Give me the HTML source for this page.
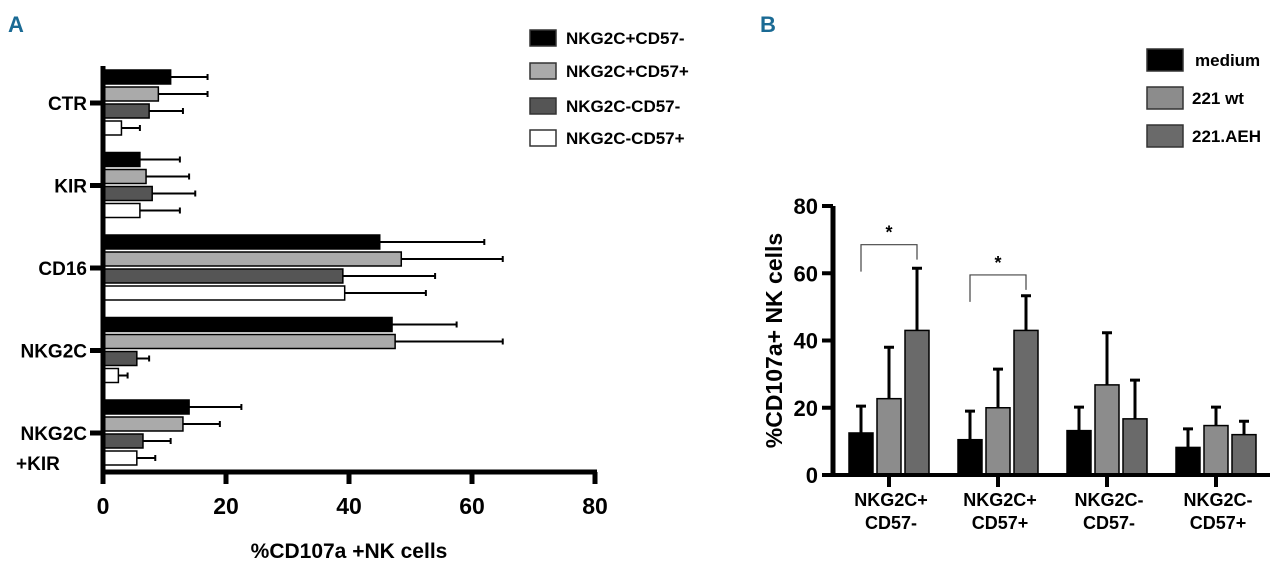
<!DOCTYPE html>
<html><head><meta charset="utf-8"><style>
html,body{margin:0;padding:0;background:#fff;}
svg{display:block;font-family:"Liberation Sans",sans-serif;font-weight:bold;}
</style></head><body>
<svg id="chart" width="1280" height="569" viewBox="0 0 1280 569">
<text x="8" y="32" font-size="22" fill="#1a6a94">A</text>
<text x="760" y="32" font-size="22" fill="#1a6a94">B</text>
<g id="ga"></g><g id="gb"></g>
</svg>
<script>
const NS='http://www.w3.org/2000/svg';
function mk(p,t,a,txt){const e=document.createElementNS(NS,t);for(const k in a)e.setAttribute(k,a[k]);if(txt!=null)e.textContent=txt;p.appendChild(e);return e;}

// Panel A data
const aCategories=['CTR','KIR','CD16','NKG2C','NKG2C+KIR'];
const aSeriesNames=['NKG2C+CD57-','NKG2C+CD57+','NKG2C-CD57-','NKG2C-CD57+'];
const aPosNeg=[11,6,45,47,14];
const aPosPos=[9,7,48.5,47.5,13];
const aNegNeg=[7.5,8,39,5.5,6.5];
const aNegPos=[3,6,39.3,2.5,5.5];
const aErrPosNeg=[17,12.5,62,57.5,22.5];
const aErrPosPos=[17,14,65,65,19];
const aErrNegNeg=[13,15,54,7.5,11];
const aErrNegPos=[6,12.5,52.5,4,8.5];
const aTicks=[0,20,40,60,80];

// Panel B data
const bCategories=[['NKG2C+','CD57-'],['NKG2C+','CD57+'],['NKG2C-','CD57-'],['NKG2C-','CD57+']];
const bSeriesNames=['medium','221 wt','221.AEH'];
const bMedium=[12.5,10.5,13.2,8.2];
const bWt=[22.7,20,26.8,14.7];
const bAEH=[43,43,16.7,12];
const bErrMedium=[20.5,19,20.2,13.7];
const bErrWt=[38,31.5,42.3,20.2];
const bErrAEH=[61.5,53.3,28.2,16];
const bTicks=[0,20,40,60,80];

// Panel A
(function(){
const g=document.getElementById('ga');
const x=v=>103+v*(595-103)/80;
const catY=i=>103+i*82.5;
const vals=[aPosNeg,aPosPos,aNegNeg,aNegPos],errs=[aErrPosNeg,aErrPosPos,aErrNegNeg,aErrNegPos];
const fills=['#000','#aaa','#555','#fff'];
const offs=[-26,-9,8,25];
aCategories.forEach((c,i)=>{
  vals.forEach((arr,s)=>{
    const yc=catY(i)+offs[s];
    const r=mk(g,'rect',{x:x(0),y:yc-7,width:x(arr[i])-x(0),height:14,fill:fills[s],stroke:'#000','stroke-width':1.5});
    
    
    const e=mk(g,'path',{d:`M${x(arr[i])} ${yc}H${x(errs[s][i])}M${x(errs[s][i])} ${yc-3}V${yc+3}`,stroke:'#000','stroke-width':2,fill:'none'});
    
    
  });
  mk(g,'line',{x1:90,x2:103,y1:catY(i),y2:catY(i),stroke:'#000','stroke-width':5});
  const parts=c==='NKG2C+KIR'?['NKG2C','+KIR']:[c];
  parts.forEach((p,k)=>{
    const t=mk(g,'text',{x:k?16:87,y:catY(i)+7+k*30,'font-size':19,'text-anchor':k?'start':'end'},p);
    
    
  });
});
mk(g,'line',{x1:103,x2:103,y1:66,y2:474,stroke:'#000','stroke-width':5});
mk(g,'line',{x1:101,x2:597,y1:472,y2:472,stroke:'#000','stroke-width':5});
aTicks.forEach(v=>{
  mk(g,'line',{x1:x(v),x2:x(v),y1:472,y2:484,stroke:'#000','stroke-width':5});
  const t=mk(g,'text',{x:x(v),y:514,'font-size':23,'text-anchor':'middle'},v);
  
  
});
const xt=mk(g,'text',{x:349,y:558,'font-size':21,'text-anchor':'middle'},'%CD107a +NK cells');


const ly=[38,71,106,138];
aSeriesNames.forEach((n,s)=>{
  const r=mk(g,'rect',{x:530,y:ly[s]-8,width:26,height:16,fill:fills[s],stroke:'#333','stroke-width':1.5});
  
  
  const t=mk(g,'text',{x:566,y:ly[s]+6,'font-size':17},n);
  
  
});
})();

// Panel B
(function(){
const g=document.getElementById('gb');
const y0=475,y80=206;
const y=v=>y0-v*(y0-y80)/80;
const catX=i=>889+i*109;
const vals=[bMedium,bWt,bAEH],errs=[bErrMedium,bErrWt,bErrAEH];
const fills=['#000','#8c8c8c','#6a6a6a'];
const offs=[-28,0,28];
bCategories.forEach((c,i)=>{
  vals.forEach((arr,s)=>{
    const xc=catX(i)+offs[s];
    const e=mk(g,'path',{d:`M${xc} ${y(arr[i])}V${y(errs[s][i])}M${xc-5} ${y(errs[s][i])}H${xc+5}`,stroke:'#000','stroke-width':3,fill:'none'});
    
    
    const r=mk(g,'rect',{x:xc-12,y:y(arr[i]),width:24,height:y(0)-y(arr[i]),fill:fills[s],stroke:'#000','stroke-width':1.5});
    
    
  });
  mk(g,'line',{x1:catX(i),x2:catX(i),y1:y0,y2:y0+12,stroke:'#000','stroke-width':4});
  c.forEach((p,k)=>{
    const t=mk(g,'text',{x:catX(i)+2,y:506+k*23,'font-size':18,'text-anchor':'middle'},p);
    
    
  });
});
mk(g,'line',{x1:833,x2:833,y1:y80,y2:y0+2,stroke:'#000','stroke-width':5});
mk(g,'line',{x1:831,x2:1270,y1:y0,y2:y0,stroke:'#000','stroke-width':4});
bTicks.forEach(v=>{
  mk(g,'line',{x1:822,x2:833,y1:y(v),y2:y(v),stroke:'#000','stroke-width':4});
  const t=mk(g,'text',{x:818,y:y(v)+8,'font-size':22,'text-anchor':'end'},v);
  
  
});
const yt=mk(g,'text',{x:0,y:0,'font-size':23,'text-anchor':'middle',transform:`translate(782,${(y0+y80)/2}) rotate(-90)`},'%CD107a+ NK cells');


// significance brackets
[[0,y(60.5),y(68.5)],[1,y(51.5),y(59.5)]].forEach(([i,yb,yt2])=>{
  const x1=catX(i)-28,x2=catX(i)+28;
  const p=mk(g,'path',{d:`M${x1} ${yb}V${yt2}H${x2}V${yt2+15}`,stroke:'#444','stroke-width':1.2,fill:'none'});
  
  
  const s=mk(g,'text',{x:(x1+x2)/2,y:yt2-6,'font-size':18,'text-anchor':'middle'},'*');
  
  
});
const ly=[60,98,136];
bSeriesNames.forEach((n,s)=>{
  const r=mk(g,'rect',{x:1147,y:ly[s]-11,width:36,height:22,fill:fills[s],stroke:'#333','stroke-width':1.5});
  
  
  const t=mk(g,'text',{x:s?1192:1195,y:ly[s]+6,'font-size':17},n);
  
  
});
})();
</script>
</body></html>
